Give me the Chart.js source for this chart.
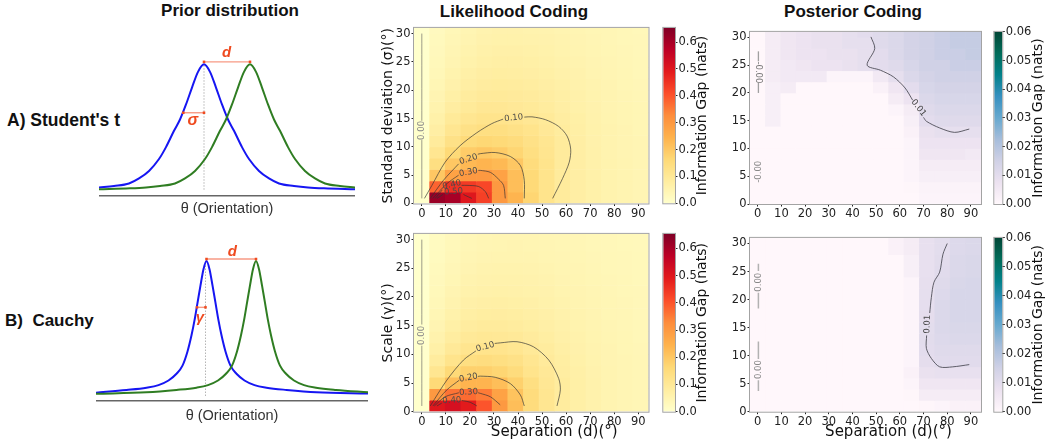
<!DOCTYPE html>
<html>
<head>
<meta charset="utf-8">
<script src="https://cdn.jsdelivr.net/npm/chart.js@4.4.1/dist/chart.umd.min.js"></script>
<style>
  body { margin: 0; background: #fff; }
  #page { position: relative; width: 1049px; height: 442px; overflow: hidden; font-family: "Liberation Sans", Arial, sans-serif; }
  #page canvas { position: absolute; }
  .ttl { position: absolute; font-weight: bold; color: #111; white-space: pre; transform: translate(-50%, -50%); }
  .row { position: absolute; font-weight: bold; color: #111; white-space: pre; transform: translateY(-50%); }
</style>
</head>
<body>
<div id="page">
  <div class="ttl" style="left:230px;top:11px;font-size:17px">Prior distribution</div>
  <div class="ttl" style="left:514px;top:12px;font-size:17px">Likelihood Coding</div>
  <div class="ttl" style="left:853px;top:12px;font-size:17px">Posterior Coding</div>
  <div class="row" style="left:7px;top:120px;font-size:17.5px">A) Student's t</div>
  <div class="row" style="left:5px;top:321px;font-size:17px">B)  Cauchy</div>

  <canvas id="priorT" width="256" height="183" style="left:99px;top:35px"></canvas>
  <canvas id="priorC" width="272" height="190" style="left:96px;top:235px"></canvas>

  <canvas id="likeT" width="275" height="200" style="left:375px;top:20px"></canvas>
  <canvas id="likeC" width="275" height="216" style="left:375px;top:226px"></canvas>
  <canvas id="cbLikeT" width="58" height="200" style="left:657px;top:20px"></canvas>
  <canvas id="cbLikeC" width="58" height="200" style="left:657px;top:226px"></canvas>

  <canvas id="postT" width="252" height="197" style="left:730px;top:24px"></canvas>
  <canvas id="postC" width="252" height="212" style="left:730px;top:230px"></canvas>
  <canvas id="cbPostT" width="61" height="200" style="left:988px;top:24px"></canvas>
  <canvas id="cbPostC" width="61" height="200" style="left:988px;top:230px"></canvas>
</div>

<script>
// ---------- prior curves ----------
const thetaBlueT = [-105, -90, -75, -65, -55, -45, -38, -30, -24, -18, -12, -6, 0, 6, 12, 18, 24, 30, 38, 45, 55, 65, 75, 90, 104, 120, 151];
const blueT = [0.017, 0.03, 0.05, 0.09, 0.15, 0.245, 0.34, 0.47, 0.56, 0.68, 0.815, 0.94, 1, 0.94, 0.815, 0.68, 0.56, 0.47, 0.34, 0.245, 0.15, 0.09, 0.05, 0.03, 0.018, 0.011, 0.004];
const thetaGreenT = [-105, -74, -58, -44, -29, -19, -9, 1, 8, 16, 22, 28, 34, 40, 46, 52, 58, 64, 70, 76, 84, 91, 101, 111, 121, 136, 151];
const greenT = [0.004, 0.011, 0.018, 0.03, 0.05, 0.09, 0.15, 0.245, 0.34, 0.47, 0.56, 0.68, 0.815, 0.94, 1, 0.94, 0.815, 0.68, 0.56, 0.47, 0.34, 0.245, 0.15, 0.09, 0.05, 0.03, 0.017];

const thetaBlueC = [-110.5, -80, -60, -48, -38, -30, -24, -19, -15, -12, -9, -6, -3, 0, 3, 6, 9, 12, 15, 19, 24, 30, 38, 48, 60, 80, 110, 161.5];
const blueC = [0.025, 0.045, 0.062, 0.081, 0.115, 0.165, 0.225, 0.33, 0.45, 0.56, 0.69, 0.82, 0.94, 1, 0.94, 0.82, 0.69, 0.56, 0.45, 0.33, 0.225, 0.165, 0.115, 0.081, 0.062, 0.045, 0.027, 0.018];
const thetaGreenC = [-110.5, -60, -30, -10, 1.5, 11.5, 19.5, 25.5, 30.5, 34.5, 37.5, 40.5, 43.5, 46.5, 49.5, 52.5, 55.5, 58.5, 61.5, 64.5, 68.5, 73.5, 79.5, 87.5, 97.5, 109.5, 129.5, 161.5];
const greenC = [0.016, 0.027, 0.045, 0.062, 0.081, 0.115, 0.165, 0.225, 0.33, 0.45, 0.56, 0.69, 0.82, 0.94, 1, 0.94, 0.82, 0.69, 0.56, 0.45, 0.33, 0.225, 0.165, 0.115, 0.081, 0.062, 0.045, 0.027];

// ---------- heatmap grids ----------
const separation = [0, 6.5, 13, 19.5, 26, 32.5, 39, 45.5, 52, 58.5, 65, 71.5, 78, 84.5, 91];
const spread = [1, 3, 5, 7, 9, 11, 13, 15, 17, 19, 21, 23, 25, 27, 29, 31];

// rows go from the smallest spread (bottom) upwards
const likeT = [
  [0, 0.62, 0.60, 0.50, 0.43, 0.30, 0.24, 0.17, 0.12, 0.09, 0.075, 0.065, 0.055, 0.05, 0.045],
  [0, 0.38, 0.45, 0.44, 0.42, 0.30, 0.22, 0.16, 0.12, 0.09, 0.075, 0.065, 0.055, 0.05, 0.045],
  [0, 0.20, 0.28, 0.30, 0.30, 0.28, 0.22, 0.16, 0.12, 0.09, 0.075, 0.065, 0.055, 0.05, 0.045],
  [0, 0.14, 0.20, 0.23, 0.24, 0.23, 0.20, 0.15, 0.12, 0.09, 0.075, 0.064, 0.055, 0.05, 0.045],
  [0, 0.11, 0.16, 0.19, 0.20, 0.19, 0.17, 0.14, 0.115, 0.09, 0.075, 0.063, 0.054, 0.049, 0.044],
  [0, 0.09, 0.13, 0.155, 0.165, 0.16, 0.15, 0.13, 0.11, 0.09, 0.075, 0.062, 0.054, 0.048, 0.044],
  [0, 0.075, 0.11, 0.13, 0.14, 0.14, 0.13, 0.12, 0.10, 0.085, 0.072, 0.061, 0.053, 0.048, 0.043],
  [0, 0.065, 0.095, 0.11, 0.12, 0.12, 0.115, 0.105, 0.095, 0.08, 0.07, 0.06, 0.052, 0.047, 0.043],
  [0, 0.055, 0.08, 0.095, 0.105, 0.105, 0.10, 0.095, 0.085, 0.075, 0.065, 0.057, 0.05, 0.046, 0.042],
  [0, 0.048, 0.07, 0.085, 0.093, 0.095, 0.092, 0.088, 0.08, 0.072, 0.063, 0.056, 0.05, 0.045, 0.04],
  [0, 0.042, 0.062, 0.076, 0.084, 0.087, 0.085, 0.082, 0.075, 0.068, 0.06, 0.054, 0.048, 0.043, 0.039],
  [0, 0.037, 0.055, 0.068, 0.076, 0.079, 0.078, 0.075, 0.07, 0.064, 0.057, 0.051, 0.046, 0.042, 0.038],
  [0, 0.033, 0.049, 0.061, 0.069, 0.072, 0.072, 0.07, 0.065, 0.06, 0.054, 0.049, 0.044, 0.04, 0.037],
  [0, 0.03, 0.044, 0.055, 0.063, 0.066, 0.066, 0.065, 0.061, 0.056, 0.051, 0.047, 0.042, 0.039, 0.036],
  [0, 0.027, 0.04, 0.05, 0.057, 0.061, 0.061, 0.06, 0.057, 0.053, 0.049, 0.045, 0.041, 0.038, 0.035],
  [0, 0.025, 0.037, 0.046, 0.053, 0.057, 0.057, 0.056, 0.054, 0.05, 0.047, 0.043, 0.04, 0.037, 0.034]
];
const likeC = [
  [0, 0.50, 0.52, 0.49, 0.40, 0.30, 0.22, 0.15, 0.11, 0.085, 0.07, 0.06, 0.05, 0.045, 0.04],
  [0, 0.30, 0.36, 0.37, 0.35, 0.28, 0.21, 0.15, 0.11, 0.085, 0.07, 0.06, 0.05, 0.045, 0.04],
  [0, 0.16, 0.22, 0.24, 0.24, 0.22, 0.18, 0.14, 0.105, 0.085, 0.07, 0.06, 0.05, 0.045, 0.04],
  [0, 0.11, 0.16, 0.18, 0.18, 0.17, 0.15, 0.12, 0.10, 0.08, 0.068, 0.058, 0.05, 0.045, 0.04],
  [0, 0.085, 0.12, 0.14, 0.145, 0.14, 0.13, 0.11, 0.092, 0.077, 0.065, 0.056, 0.049, 0.044, 0.04],
  [0, 0.068, 0.098, 0.115, 0.12, 0.118, 0.11, 0.098, 0.085, 0.072, 0.062, 0.054, 0.048, 0.043, 0.039],
  [0, 0.057, 0.082, 0.097, 0.103, 0.102, 0.097, 0.088, 0.078, 0.067, 0.059, 0.052, 0.046, 0.042, 0.038],
  [0, 0.049, 0.07, 0.084, 0.09, 0.09, 0.086, 0.079, 0.071, 0.063, 0.056, 0.05, 0.045, 0.041, 0.037],
  [0, 0.042, 0.061, 0.074, 0.079, 0.08, 0.077, 0.072, 0.066, 0.059, 0.053, 0.048, 0.043, 0.04, 0.036],
  [0, 0.037, 0.054, 0.066, 0.071, 0.072, 0.07, 0.066, 0.061, 0.055, 0.05, 0.046, 0.042, 0.039, 0.036],
  [0, 0.033, 0.048, 0.059, 0.064, 0.065, 0.064, 0.061, 0.057, 0.052, 0.048, 0.044, 0.041, 0.038, 0.035],
  [0, 0.03, 0.043, 0.053, 0.058, 0.06, 0.059, 0.057, 0.053, 0.049, 0.046, 0.042, 0.039, 0.037, 0.034],
  [0, 0.027, 0.039, 0.048, 0.053, 0.055, 0.055, 0.053, 0.05, 0.047, 0.044, 0.041, 0.038, 0.036, 0.034],
  [0, 0.024, 0.036, 0.044, 0.049, 0.051, 0.051, 0.05, 0.047, 0.045, 0.042, 0.039, 0.037, 0.035, 0.033],
  [0, 0.022, 0.033, 0.041, 0.045, 0.047, 0.048, 0.047, 0.045, 0.043, 0.04, 0.038, 0.036, 0.034, 0.032],
  [0, 0.02, 0.03, 0.038, 0.042, 0.044, 0.045, 0.044, 0.043, 0.041, 0.039, 0.037, 0.035, 0.033, 0.031]
];
const postT = [
  [0, 0, 0, 0, 0, 0, 0, 0, 0, 0, 0, 0.001, 0.001, 0.001, 0.001],
  [0, 0, 0, 0, 0, 0, 0, 0, 0, 0, 0.0005, 0.0015, 0.0015, 0.0015, 0.0015],
  [0, 0, 0, 0, 0, 0, 0, 0, 0, 0, 0.001, 0.003, 0.003, 0.003, 0.003],
  [0, 0, 0, 0, 0, 0, 0, 0, 0, 0, 0.001, 0.004, 0.004, 0.004, 0.004],
  [0, 0, 0, 0, 0, 0, 0, 0, 0, 0, 0.001, 0.006, 0.006, 0.006, 0.005],
  [0, 0, 0, 0, 0, 0, 0, 0, 0, 0, 0.001, 0.007, 0.007, 0.007, 0.007],
  [0, 0, 0, 0, 0, 0, 0, 0, 0, 0, 0.002, 0.008, 0.009, 0.009, 0.009],
  [0, 0.003, 0, 0, 0, 0, 0, 0, 0, 0, 0.003, 0.01, 0.011, 0.011, 0.011],
  [0, 0.003, 0, 0, 0, 0, 0, 0, 0, 0.001, 0.004, 0.011, 0.012, 0.012, 0.012],
  [0, 0.003, 0, 0, 0, 0, 0, 0, 0, 0.004, 0.007, 0.012, 0.013, 0.013, 0.013],
  [0, 0.003, 0.004, 0, 0, 0, 0, 0, 0.002, 0.006, 0.01, 0.013, 0.014, 0.014, 0.014],
  [0, 0.004, 0.005, 0.005, 0.005, 0.001, 0.001, 0.001, 0.005, 0.009, 0.012, 0.014, 0.015, 0.015, 0.015],
  [0, 0.004, 0.005, 0.006, 0.007, 0.007, 0.008, 0.009, 0.01, 0.011, 0.013, 0.015, 0.015, 0.016, 0.016],
  [0, 0.004, 0.006, 0.007, 0.007, 0.008, 0.008, 0.009, 0.01, 0.012, 0.014, 0.015, 0.016, 0.016, 0.017],
  [0, 0.004, 0.006, 0.007, 0.008, 0.008, 0.009, 0.009, 0.011, 0.012, 0.014, 0.015, 0.016, 0.017, 0.017],
  [0, 0.004, 0.006, 0.007, 0.008, 0.008, 0.009, 0.01, 0.011, 0.012, 0.014, 0.015, 0.016, 0.017, 0.017]
];
const postC = [
  [0, 0, 0, 0, 0, 0, 0, 0, 0, 0, 0, 0.0005, 0.001, 0.002, 0.002],
  [0, 0, 0, 0, 0, 0, 0, 0, 0, 0, 0.0005, 0.004, 0.004, 0.004, 0.004],
  [0, 0, 0, 0, 0, 0, 0, 0, 0, 0, 0.001, 0.006, 0.006, 0.006, 0.006],
  [0, 0, 0, 0, 0, 0, 0, 0, 0, 0, 0.002, 0.008, 0.0085, 0.0085, 0.0085],
  [0, 0, 0, 0, 0, 0, 0, 0, 0, 0, 0.001, 0.0095, 0.0105, 0.0105, 0.0105],
  [0, 0, 0, 0, 0, 0, 0, 0, 0, 0, 0.001, 0.01, 0.011, 0.011, 0.011],
  [0, 0, 0, 0, 0, 0, 0, 0, 0, 0, 0.001, 0.0102, 0.0115, 0.012, 0.012],
  [0, 0, 0, 0, 0, 0, 0, 0, 0, 0, 0.001, 0.0098, 0.012, 0.0125, 0.0125],
  [0, 0, 0, 0, 0, 0, 0, 0, 0, 0, 0.001, 0.0095, 0.012, 0.013, 0.013],
  [0, 0, 0, 0, 0, 0, 0, 0, 0, 0, 0.001, 0.0093, 0.012, 0.013, 0.013],
  [0, 0, 0, 0, 0, 0, 0, 0, 0, 0, 0.001, 0.009, 0.0115, 0.013, 0.013],
  [0, 0, 0, 0, 0, 0, 0, 0, 0, 0, 0.001, 0.0088, 0.011, 0.0125, 0.013],
  [0, 0, 0, 0, 0, 0, 0, 0, 0, 0, 0.003, 0.0085, 0.0105, 0.012, 0.0125],
  [0, 0, 0, 0, 0, 0, 0, 0, 0, 0, 0.003, 0.0085, 0.0102, 0.012, 0.0125],
  [0, 0, 0, 0, 0, 0, 0, 0, 0, 0.002, 0.004, 0.0085, 0.0098, 0.0115, 0.012],
  [0, 0, 0, 0, 0, 0, 0, 0, 0, 0.002, 0.004, 0.0085, 0.0098, 0.0115, 0.012]
];

// ---------- contour lines (separation, spread), split where the label sits ----------
const likeTContours = [
  {color: 'rgba(90,90,90,0.6)', width: 1, segs: [[[0, 0.9], [0, 11.2]], [[0, 14.6], [0, 30]]]},
  {color: 'rgba(50,50,50,0.75)', width: 0.9, segs: [
    [[1.1, 0.9], [4.2, 3.2], [9.7, 7.3], [15.9, 10.2], [22.9, 12.5], [29.1, 14.1], [33.8, 14.9]],
    [[42.6, 15.25], [45.8, 15.3], [51.4, 14.8], [56.9, 13.6], [60.4, 11.9], [61.9, 9.6], [61.3, 7.3], [58.5, 4.4], [54.4, 0.9]]]},
  {color: 'rgba(50,50,50,0.75)', width: 0.9, segs: [
    [[3.5, 0.9], [9, 4.1], [15.3, 7.0]],
    [[23.3, 8.7], [24.3, 8.8], [30.5, 9.0], [36.8, 8.3], [41, 6.7], [42.6, 4.1], [42.6, 0.9]]]},
  {color: 'rgba(50,50,50,0.75)', width: 0.9, segs: [
    [[4.6, 0.9], [10.4, 3.5], [15.3, 5.0]],
    [[23.5, 5.85], [24.3, 5.85], [28.5, 5.5], [31.9, 4.3], [34, 3.2], [34.7, 0.9]]]},
  {color: 'rgba(50,50,50,0.75)', width: 0.9, segs: [
    [[5.6, 0.9], [8.5, 2.4]],
    [[16.5, 3.2], [18.8, 3.2], [23.6, 3.0], [26.4, 2.1], [27.8, 0.9]]]},
  {color: 'rgba(50,50,50,0.75)', width: 0.9, segs: [
    [[6.3, 0.9], [8.8, 1.6]],
    [[17.3, 1.6], [18.2, 1.4], [20.8, 0.9]]]}
];
const likeTLabels = [['0.00', 0, 12.9, -90, '#888'], ['0.10', 38.2, 15.1, -6], ['0.20', 19.4, 7.8, -18],
  ['0.30', 19.4, 5.5, -10], ['0.40', 12.5, 3.3, -12], ['0.50', 13.2, 2.1, -4]];

const likeCContours = [
  {color: 'rgba(90,90,90,0.6)', width: 1, segs: [[[0, 1], [0, 11.5]], [[0, 15.2], [0, 30]]]},
  {color: 'rgba(50,50,50,0.75)', width: 0.9, segs: [
    [[3.5, 1], [10.4, 5.5], [17.3, 9], [22.5, 10.6]],
    [[30.3, 11.9], [32.6, 12.0], [39.6, 12.2], [46.5, 11.3], [52.8, 9], [56.9, 5.8], [57.6, 3.8], [56.2, 1]]]},
  {color: 'rgba(50,50,50,0.75)', width: 0.9, segs: [
    [[4.6, 1], [10.4, 3.8], [15.6, 5.5]],
    [[23.3, 6.15], [24.3, 6.2], [30.5, 6.0], [36.8, 4.9], [41, 2.9], [42.6, 1]]]},
  {color: 'rgba(50,50,50,0.75)', width: 0.9, segs: [
    [[5.2, 1], [9.7, 2.6], [15.4, 3.3]],
    [[23.4, 3.3], [24.3, 3.2], [28.5, 2.6], [32.6, 1.2]]]},
  {color: 'rgba(50,50,50,0.75)', width: 0.9, segs: [
    [[6.3, 1], [8.3, 1.5]],
    [[16.6, 1.95], [17.3, 1.9], [20.1, 1.65], [22.9, 1]]]}
];
const likeCLabels = [['0.00', 0, 13.3, -90, '#888'], ['0.10', 26.4, 11.3, -16], ['0.20', 19.4, 5.9, -10],
  ['0.30', 19.4, 3.4, -3], ['0.40', 12.5, 1.95, -4]];

const postTContours = [
  {color: 'rgba(70,70,80,0.85)', width: 1, segs: [
    [[47.8, 30.1], [49.4, 28], [46.2, 25], [51.8, 24.1], [57.3, 22.9], [62.2, 20.9], [65.4, 18.7]],
    [[70, 15.6], [71.2, 14.9], [76.8, 13.7], [83.1, 12.9], [89.3, 13.5]]]},
  {color: 'rgba(150,150,150,0.9)', width: 1.3, segs: [[[0.3, 27.5], [0.3, 25.7]], [[0.3, 21.8], [0.3, 20]]]}
];
const postTLabels = [['0.01', 67.9, 17.3, 52, '#444'], ['-0.00', 0.3, 23.7, 90, '#777'], ['-0.00', 0.3, 5.8, -90, '#888']];

const postCContours = [
  {color: 'rgba(70,70,80,0.85)', width: 1, segs: [
    [[80, 30], [78.2, 28.1], [76.8, 24.9], [74.4, 23.1], [73.3, 20.4], [72.6, 17.6]],
    [[71.3, 13.6], [71.2, 11.3], [73.3, 9.5], [76.8, 8.0], [82.3, 8.0], [89.3, 8.4]]]},
  {color: 'rgba(170,170,170,0.9)', width: 1.5, segs: [
    [[0.3, 26.4], [0.3, 25.1]], [[0.3, 21.2], [0.3, 18.4]], [[0.3, 12.5], [0.3, 9.4]], [[0.3, 5.6], [0.3, 3.7]]]}
];
const postCLabels = [['0.01', 71.6, 15.6, -88, '#444'], ['0.00', 0.3, 23.1, -90, '#888'], ['0.00', 0.3, 7.5, -90, '#888']];

// ---------- colour maps ----------
const ylOrRd = ['#ffffcc', '#ffeda0', '#fed976', '#feb24c', '#fd8d3c', '#fc4e2a', '#e31a1c', '#bd0026', '#800026'];
const puBuGn = ['#fff7fb', '#ece2f0', '#d0d1e6', '#a6bddb', '#67a9cf', '#3690c0', '#02818a', '#016c59', '#014636'];

function hexRgb(h) {
  return [1, 3, 5].map(i => parseInt(h.substr(i, 2), 16));
}
function colormap(stops, t) {
  t = Math.max(0, Math.min(1, t));
  const p = t * (stops.length - 1);
  const i = Math.min(Math.floor(p), stops.length - 2);
  const f = p - i;
  const a = hexRgb(stops[i]), b = hexRgb(stops[i + 1]);
  return 'rgb(' + a.map((v, k) => Math.round(v + (b[k] - v) * f)).join(',') + ')';
}

const tickFont = {family: 'DejaVu Sans', size: 11.5};
const titleFont = {family: 'DejaVu Sans', size: 14};

const frame = {
  id: 'frame',
  afterDatasetsDraw(chart) {
    const a = chart.chartArea, c = chart.ctx;
    c.save();
    c.strokeStyle = '#a3a3a3';
    c.lineWidth = 1;
    c.strokeRect(a.left - 0.5, a.top - 0.5, a.width + 1, a.height + 1);
    c.restore();
  }
};

function contourLabels(items) {
  return {
    id: 'clabels',
    afterDatasetsDraw(chart) {
      const {ctx, scales: {x, y}} = chart;
      items.forEach(([txt, lx, ly, rot, col]) => {
        ctx.save();
        ctx.translate(x.getPixelForValue(lx), y.getPixelForValue(ly));
        ctx.rotate(rot * Math.PI / 180);
        ctx.font = '8.5px "DejaVu Sans"';
        ctx.fillStyle = col || '#4a4a4a';
        ctx.textAlign = 'center';
        ctx.textBaseline = 'middle';
        ctx.fillText(txt, 0, 0);
        ctx.restore();
      });
    }
  };
}

// x label sits a little right of the axis centre in the original figure
function xLabel(show) {
  return {
    id: 'xlabel',
    afterDraw(chart) {
      if (!show) return;
      const c = chart.ctx, a = chart.chartArea;
      c.save();
      c.font = '15px "DejaVu Sans"';
      c.fillStyle = '#111';
      c.textAlign = 'center';
      c.textBaseline = 'middle';
      c.fillText('Separation (d)(°)', (a.left + a.right) / 2 + 23, a.bottom + 20);
      c.restore();
    }
  };
}

function heatmap(id, grid, stops, vmax, contours, labels, o) {
  const half = (spread[1] - spread[0]) / 2;
  const cells = [];
  grid.forEach((row, i) => row.forEach((v, j) => {
    cells.push({x: separation[j], y: [spread[i] - half, spread[i] + half], v: v});
  }));
  const datasets = [{
    type: 'bar',
    data: cells,
    order: 2,
    backgroundColor: c => (c.raw ? colormap(stops, c.raw.v / vmax) : '#fff'),
    borderWidth: 0,
    barPercentage: 1,
    categoryPercentage: 1,
    grouped: false
  }];
  contours.forEach(ct => ct.segs.forEach(seg => datasets.push({
    type: 'line',
    order: 0,
    data: seg.map(p => ({x: p[0], y: p[1]})),
    borderColor: ct.color,
    borderWidth: ct.width,
    pointRadius: 0,
    tension: 0.3,
    fill: false
  })));

  new Chart(document.getElementById(id), {
    type: 'bar',
    data: {datasets},
    options: {
      responsive: false,
      animation: false,
      events: [],
      layout: {padding: {top: 6, right: o.right, left: 0, bottom: 0}, autoPadding: false},
      plugins: {legend: {display: false}, tooltip: {enabled: false}},
      scales: {
        x: {
          type: 'linear', min: -3.25, max: 94.25, offset: false,
          grid: {display: true, drawOnChartArea: false, drawTicks: true, tickLength: 2.5, color: '#222', offset: false},
          border: {display: false},
          ticks: {stepSize: 10, includeBounds: false, autoSkip: false, maxRotation: 0, padding: 1, font: tickFont, color: '#222'},
          afterFit: s => { s.height = o.xh; }
        },
        y: {
          type: 'linear', min: 0, max: 31,
          grid: {display: true, drawOnChartArea: false, drawTicks: true, tickLength: 2.5, color: '#222'},
          border: {display: false},
          ticks: {stepSize: 5, includeBounds: false, autoSkip: false, padding: 1, font: tickFont, color: '#222'},
          title: {display: !!o.yTitle, text: o.yTitle || '', font: titleFont, color: '#111', padding: {top: 4.6, bottom: 0}},
          afterFit: s => { s.width = o.yw; }
        }
      }
    },
    plugins: [frame, contourLabels(labels), xLabel(o.xTitle)]
  });
}

function colorbar(id, stops, vmax, step, digits, pad, titleX) {
  new Chart(document.getElementById(id), {
    type: 'bar',
    data: {
      labels: [''],
      datasets: [{
        data: [[0, vmax]],
        barPercentage: 1,
        categoryPercentage: 1,
        borderWidth: 0,
        backgroundColor: c => {
          const a = c.chart.chartArea;
          if (!a) return '#fff';
          const g = c.chart.ctx.createLinearGradient(0, a.bottom, 0, a.top);
          stops.forEach((s, k) => g.addColorStop(k / (stops.length - 1), s));
          return g;
        }
      }]
    },
    options: {
      responsive: false,
      animation: false,
      events: [],
      layout: {padding: pad, autoPadding: false},
      plugins: {legend: {display: false}, tooltip: {enabled: false}},
      scales: {
        x: {display: false},
        y: {
          position: 'right', min: 0, max: vmax,
          grid: {display: true, drawOnChartArea: false, drawTicks: true, tickLength: 2.5, color: '#222'},
          border: {display: false},
          ticks: {stepSize: step, includeBounds: false, padding: 1, font: tickFont, color: '#222',
                  callback: v => v.toFixed(digits)},
          afterFit: s => { s.width = pad.axis; }
        }
      }
    },
    plugins: [frame, {
      id: 'cbTitle',
      afterDraw(chart) {
        const c = chart.ctx, a = chart.chartArea;
        c.save();
        c.translate(titleX, (a.top + a.bottom) / 2);
        c.rotate(-Math.PI / 2);
        c.font = '14px "DejaVu Sans"';
        c.fillStyle = '#111';
        c.textAlign = 'center';
        c.textBaseline = 'middle';
        c.fillText('Information Gap (nats)', 0, 0);
        c.restore();
      }
    }]
  });
}

function peakX(theta, vals) {
  return theta[vals.indexOf(Math.max(...vals))];
}

function prior(id, tb, blue, tg, green, a) {
  const pts = (xs, ys) => xs.map((x, i) => ({x: x, y: ys[i]}));
  const pb = peakX(tb, blue), pg = peakX(tg, green);
  const top = Math.max(...blue);
  new Chart(document.getElementById(id), {
    type: 'line',
    data: {
      datasets: [
        {data: [{x: pb, y: a.dY}, {x: pg, y: a.dY}], borderColor: '#f79a84', borderWidth: 1.4,
         pointRadius: 1.8, pointStyle: 'rect', pointBackgroundColor: '#ef4a1f', pointBorderWidth: 0},
        {data: [{x: a.w[0], y: a.w[2]}, {x: a.w[1], y: a.w[2]}], borderColor: '#f79a84', borderWidth: 1.4,
         pointRadius: 1.8, pointStyle: 'rect', pointBackgroundColor: '#ef4a1f', pointBorderWidth: 0},
        {data: pts(tg, green), borderColor: '#2f7d22', borderWidth: 2, pointRadius: 0, cubicInterpolationMode: 'monotone'},
        {data: pts(tb, blue), borderColor: '#1616f2', borderWidth: 2, pointRadius: 0, cubicInterpolationMode: 'monotone'},
        {data: [{x: a.dot, y: 0}, {x: a.dot, y: top}], borderColor: '#b5b5b5', borderWidth: 1, borderDash: [1.5, 1.5], pointRadius: 0}
      ]
    },
    options: {
      responsive: false,
      animation: false,
      events: [],
      layout: {padding: 0, autoPadding: false},
      plugins: {legend: {display: false}, tooltip: {enabled: false}},
      scales: {
        x: {
          type: 'linear', min: a.xmin, max: a.xmax,
          grid: {display: false},
          border: {display: true, color: '#666', width: 1.5},
          ticks: {display: false},
          title: {display: true, text: 'θ (Orientation)', font: {family: 'Liberation Sans', size: 14.5}, color: '#333', padding: {top: 0, bottom: 0}},
          afterFit: s => { s.height = a.xh; }
        },
        y: {display: false, min: a.ymin, max: a.ymax}
      }
    },
    plugins: [{
      id: 'marks',
      afterDatasetsDraw(chart) {
        const {ctx, scales: {x, y}} = chart;
        ctx.save();
        ctx.fillStyle = '#ef4a1f';
        ctx.textAlign = 'center';
        ctx.textBaseline = 'middle';
        a.texts.forEach(([t, tx, ty, size]) => {
          ctx.font = 'italic bold ' + size + 'px "Liberation Sans"';
          ctx.fillText(t, x.getPixelForValue(tx), y.getPixelForValue(ty));
        });
        ctx.restore();
      }
    }]
  });
}

prior('priorT', thetaBlueT, blueT, thetaGreenT, greenT, {
  xmin: -105, xmax: 151, ymin: -0.05, ymax: 1.234, xh: 22,
  dY: 1.02, w: [-20.7, 0, 0.614], dot: 0,
  texts: [['d', 22.7, 1.088, 15], ['σ', -11.3, 0.555, 16]]
});
prior('priorC', thetaBlueC, blueC, thetaGreenC, greenC, {
  xmin: -110.5, xmax: 161.5, ymin: -0.037, ymax: 1.193, xh: 24,
  dY: 1.015, w: [-9.5, -1, 0.657], dot: -1,
  texts: [['d', 25.8, 1.069, 15], ['γ', -6.5, 0.58, 15]]
});

heatmap('likeT', likeT, ylOrRd, 0.653, likeTContours, likeTLabels,
  {yTitle: 'Standard deviation (σ)(°)', xTitle: false, xh: 16.5, yw: 39, right: 1.5});
heatmap('likeC', likeC, ylOrRd, 0.653, likeCContours, likeCLabels,
  {yTitle: 'Scale (γ)(°)', xTitle: true, xh: 30.3, yw: 39, right: 1.5});
heatmap('postT', postT, puBuGn, 0.06, postTContours, postTLabels,
  {yTitle: '', xTitle: false, xh: 17, yw: 20, right: 1});
heatmap('postC', postC, puBuGn, 0.06, postCContours, postCLabels,
  {yTitle: '', xTitle: true, xh: 30.3, yw: 20, right: 1});

colorbar('cbLikeT', ylOrRd, 0.653, 0.1, 1, {left: 6.3, top: 5.7, bottom: 16.7, right: 0, axis: 40}, 45);
colorbar('cbLikeC', ylOrRd, 0.653, 0.1, 1, {left: 6.3, top: 6.7, bottom: 14.3, right: 0, axis: 40}, 45);
colorbar('cbPostT', puBuGn, 0.06, 0.01, 2, {left: 6.3, top: 6, bottom: 20, right: 0, axis: 46.7}, 50);
colorbar('cbPostC', puBuGn, 0.06, 0.01, 2, {left: 6.3, top: 6, bottom: 18.3, right: 0, axis: 46.7}, 50);
</script>
</body>
</html>
